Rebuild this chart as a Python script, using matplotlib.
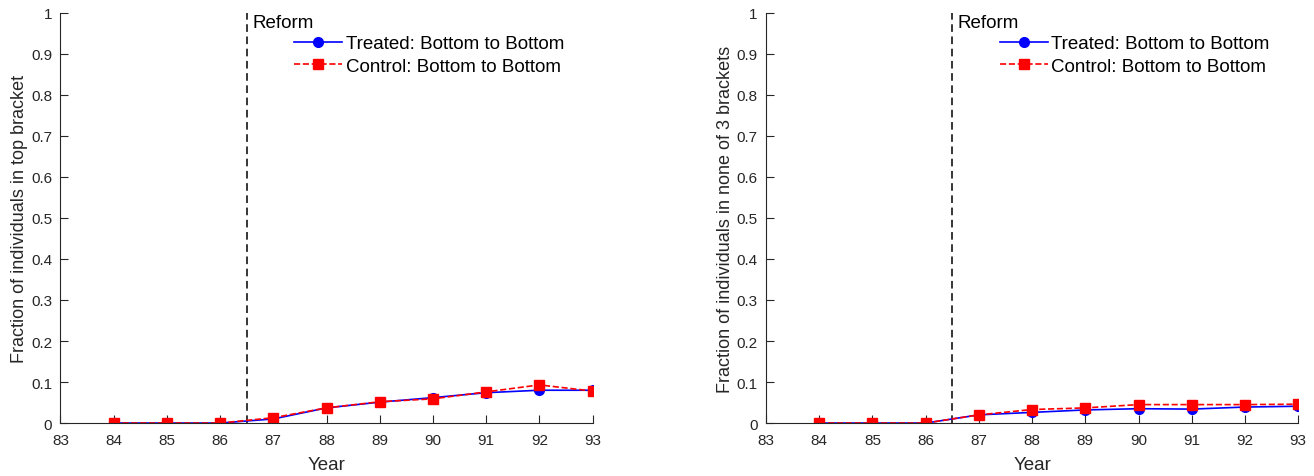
import numpy as np
from matplotlib import pyplot as plt

plt.rcParams['font.family'] = ['Liberation Sans', 'DejaVu Sans']

years = [84, 85, 86, 87, 88, 89, 90, 91, 92, 93]
top_treated = [0, 0, 0, 0.010, 0.037, 0.051, 0.062, 0.074, 0.080, 0.080]
top_control = [0, 0, 0, 0.013, 0.037, 0.052, 0.059, 0.076, 0.093, 0.078]
none_treated = [0, 0, 0, 0.020, 0.026, 0.032, 0.035, 0.034, 0.039, 0.041]
none_control = [0, 0, 0, 0.020, 0.033, 0.037, 0.045, 0.045, 0.045, 0.046]
ylabels = ['Fraction of individuals in top bracket',
           'Fraction of individuals in none of 3 brackets']
reform_year = 86.5

fig = plt.figure(figsize=(13.14, 4.77), dpi=100)
ax1 = fig.add_axes([0.046, 0.111, 0.405, 0.860])
ax2 = fig.add_axes([0.583, 0.111, 0.405, 0.860])

panels = [(ax1, top_treated, top_control, ylabels[0]),
          (ax2, none_treated, none_control, ylabels[1])]

for ax, tr, co, lab in panels:
    ax.axvline(reform_year, color='k', ls=(0, (5, 3)), lw=1.1)
    ax.text(reform_year + 0.1, 0.996, 'Reform', fontsize=13.5, va='top')
    h1, = ax.plot(years, tr, 'b-', marker='o', ms=7, lw=1.2)
    h2, = ax.plot(years, co, 'r--', marker='s', ms=7, lw=1.2)
    ax.legend(handles=[h1, h2],
              labels=['Treated: Bottom to Bottom', 'Control: Bottom to Bottom'],
              loc='upper left', bbox_to_anchor=(0.425, 0.964), frameon=False,
              fontsize=13.5, handlelength=2.55, handletextpad=0.2,
              borderaxespad=0, labelspacing=0.3)
    ax.set_xlim(83, 93)
    ax.set_ylim(0, 1)
    ax.set_xticks(range(83, 94))
    ax.set_yticks(np.arange(0, 1.01, 0.1))
    ax.set_yticklabels(['0'] + ['%.1f' % v for v in np.arange(0.1, 0.95, 0.1)] + ['1'])
    ax.tick_params(direction='in', labelsize=11, length=6, color='#262626',
                   labelcolor='#262626')
    ax.tick_params(axis='x', pad=7)
    ax.tick_params(axis='y', pad=6)
    for s in ['top', 'right']:
        ax.spines[s].set_visible(False)
    for s in ['left', 'bottom']:
        ax.spines[s].set_color('#262626')
    ax.set_xlabel('Year', fontsize=13.5, color='#262626', labelpad=7)
    ax.set_ylabel(lab, fontsize=13, color='#262626', labelpad=2)

fig.savefig('out.png', dpi=100)
